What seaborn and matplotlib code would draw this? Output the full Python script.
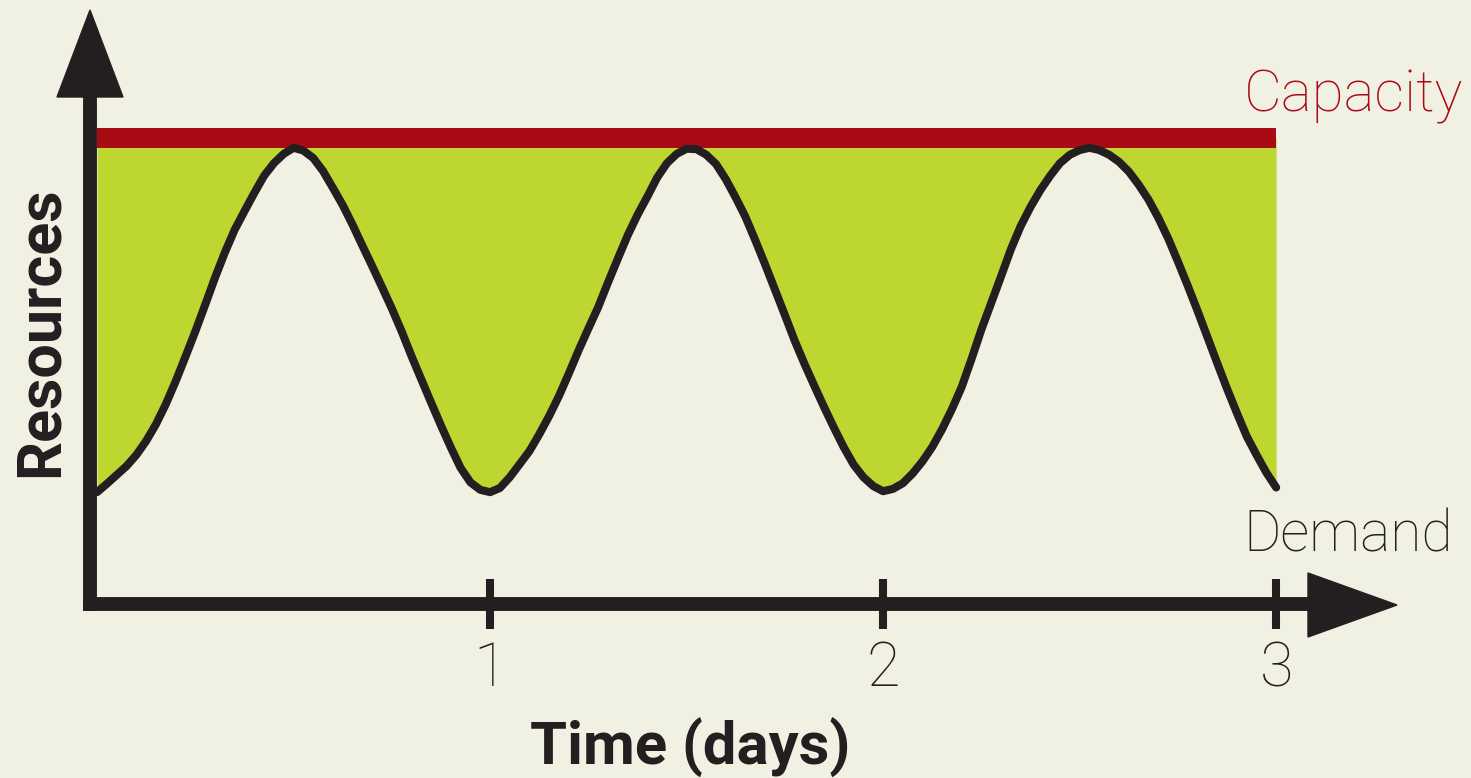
import matplotlib
matplotlib.use("Agg")
import matplotlib.pyplot as plt
from matplotlib.patches import Polygon
import seaborn as sns

# Demand curve (time in days, resources with capacity = 100)
days = [0.000, 0.025, 0.050, 0.075, 0.100, 0.125, 0.150, 0.175, 0.200, 0.225,
        0.250, 0.275, 0.300, 0.325, 0.350, 0.375, 0.400, 0.425, 0.450, 0.475,
        0.500, 0.525, 0.550, 0.575, 0.600, 0.625, 0.650, 0.675, 0.700, 0.725,
        0.750, 0.775, 0.800, 0.825, 0.850, 0.875, 0.900, 0.925, 0.950, 0.975,
        1.000, 1.025, 1.050, 1.075, 1.100, 1.125, 1.150, 1.175, 1.200, 1.225,
        1.250, 1.275, 1.300, 1.325, 1.350, 1.375, 1.400, 1.425, 1.450, 1.475,
        1.500, 1.525, 1.550, 1.575, 1.600, 1.625, 1.650, 1.675, 1.700, 1.725,
        1.750, 1.775, 1.800, 1.825, 1.850, 1.875, 1.900, 1.925, 1.950, 1.975,
        2.000, 2.025, 2.050, 2.075, 2.100, 2.125, 2.150, 2.175, 2.200, 2.225,
        2.250, 2.275, 2.300, 2.325, 2.350, 2.375, 2.400, 2.425, 2.450, 2.475,
        2.500, 2.525, 2.550, 2.575, 2.600, 2.625, 2.650, 2.675, 2.700, 2.725,
        2.750, 2.775, 2.800, 2.825, 2.850, 2.875, 2.900, 2.925, 2.950, 2.975,
        3.000]
demand = [24.0, 25.8, 27.7, 29.6, 32.0, 35.0, 38.6, 42.9, 47.8, 53.1,
          58.5, 64.2, 70.0, 75.4, 80.3, 84.3, 88.2, 91.9, 94.6, 96.6,
          97.9, 97.3, 95.7, 92.9, 89.3, 85.6, 81.4, 76.9, 72.5, 68.0,
          63.4, 58.5, 53.2, 48.2, 43.2, 38.3, 33.6, 29.2, 26.1, 24.5,
          24.0, 24.9, 27.2, 30.0, 32.8, 36.4, 40.3, 44.6, 49.4, 54.4,
          59.1, 63.7, 69.0, 74.1, 79.1, 83.5, 87.4, 91.5, 94.6, 96.6,
          97.7, 97.6, 96.4, 94.4, 91.1, 87.2, 83.0, 78.0, 72.8, 67.4,
          62.0, 56.5, 51.5, 46.8, 42.2, 37.8, 33.6, 29.9, 27.2, 25.3,
          24.2, 24.7, 25.9, 28.0, 30.6, 33.7, 37.5, 41.8, 46.6, 52.6,
          58.9, 64.6, 70.3, 76.1, 81.1, 85.2, 88.8, 91.9, 94.6, 96.4,
          97.4, 97.9, 97.4, 96.4, 94.9, 92.8, 90.0, 86.8, 82.9, 78.5,
          73.5, 68.3, 62.9, 57.3, 51.7, 46.2, 41.0, 36.0, 32.0, 28.2,
          25.0]
capacity = 100
tick_days = [1, 2, 3]
tick_labels = ["1", "2", "3"]

BG = "#f1f1e3"
DARK = "#231f20"
GREEN = "#bed730"
RED = "#a80b14"

sns.set_theme(style="white")
plt.rcParams["font.family"] = ["Roboto", "DejaVu Sans"]

W, H = 1471, 778
fig = plt.figure(figsize=(W / 100, H / 100), dpi=100, facecolor=BG)

# axes box: left spine at x=90px, bottom spine at y=604px
ax_l, ax_r, ax_t, ax_b = 90, 1308, 97, 604
ax = fig.add_axes([ax_l / W, 1 - ax_b / H, (ax_r - ax_l) / W, (ax_b - ax_t) / H])
ax.set_facecolor(BG)
ax.set_xlim(-0.018, 3.081)
ax.set_ylim(0, 108.8)

# spare capacity shaded between demand and capacity
ax.fill_between(days, demand, capacity, color=GREEN, linewidth=0, zorder=1)
ax.hlines(capacity, days[0], days[-1], color=RED, linewidth=14.4, zorder=2)
sns.lineplot(x=days, y=demand, ax=ax, color=DARK, linewidth=5.8,
             solid_capstyle="round", solid_joinstyle="round", zorder=3)

# axes styling
for side in ["top", "right"]:
    ax.spines[side].set_visible(False)
for side in ["left", "bottom"]:
    ax.spines[side].set_linewidth(10)
    ax.spines[side].set_color(DARK)
    ax.spines[side].set_capstyle("projecting")

ax.set_yticks([])
ax.set_xticks(tick_days)
ax.set_xticklabels(tick_labels, fontweight="light", fontsize=44, color=DARK)
ax.tick_params(axis="x", bottom=True, direction="inout", length=36, width=5.8,
               color=DARK, pad=8)

# arrow heads on the axes
def px(x, y):
    return (x / W, 1 - y / H)

fig.patches.append(Polygon([px(90, 10), px(57, 97), px(123, 97)], closed=True,
                           transform=fig.transFigure, color=DARK, zorder=5))
fig.patches.append(Polygon([px(1397, 605), px(1308, 573), px(1308, 637)], closed=True,
                           transform=fig.transFigure, color=DARK, zorder=5))

# labels
ax.set_xlabel("Time (days)", fontsize=43, fontweight="bold", color=DARK)
ax.xaxis.label.set_va("baseline")
ax.xaxis.set_label_coords((690 - ax_l) / (ax_r - ax_l), (ax_b - 765) / (ax_b - ax_t))
ax.set_ylabel("Resources", fontsize=44, fontweight="bold", color=DARK,
              rotation_mode="anchor", va="baseline", ha="center")
ax.yaxis.set_label_coords((58 - ax_l) / (ax_r - ax_l), (ax_b - 332) / (ax_b - ax_t))

fig.text(1463 / W, 1 - 112 / H, "Capacity", ha="right", va="baseline",
         fontsize=42, fontweight="light", color=RED)
fig.text(1453 / W, 1 - 552 / H, "Demand", ha="right", va="baseline",
         fontsize=41, fontweight="light", color=DARK)

fig.savefig("out.png", dpi=100, facecolor=BG)
